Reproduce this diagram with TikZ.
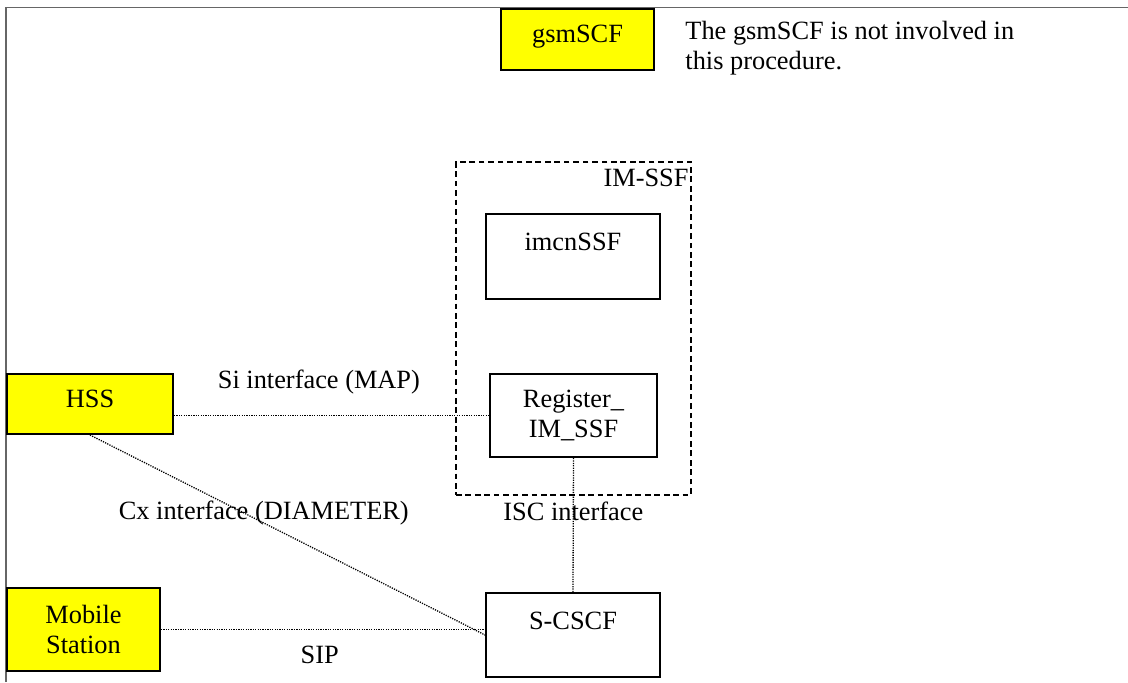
\documentclass[tikz,border=0pt]{standalone}
\usepackage{fontspec}
\setmainfont{Liberation Serif}
\usetikzlibrary{positioning}
\definecolor{boxyellow}{rgb}{1.0, 1.0, 0.0}

\begin{document}
\begin{tikzpicture}[font=\fontsize{12}{13.8}\selectfont,
    fnbox/.style={draw, line width=0.9pt, align=center, inner sep=0pt},
    ext/.style={fnbox, fill=boxyellow},
    hightext/.style={text height=8pt, text depth=5pt},
    toptext/.style={text height=8pt, text depth=13.4pt},
    link/.style={line width=0.6pt, dash pattern=on 0.55pt off 0.55pt},
    lbl/.style={inner sep=0pt}]
    \useasboundingbox (0,0) rectangle (18.048,-10.912);
    \draw[black!60, line width=0.7pt] (0.096,-10.912) -- (0.096,-0.12) -- (18.048,-0.12);

    % External entities
    \node (gsmscf) [ext, hightext, minimum width=2.448cm, minimum height=0.976cm] at (9.24,-0.632) {gsmSCF};
    \node (note) [lbl, anchor=north west, align=left] at (10.96,-0.328) {The gsmSCF is not involved in\\this procedure.};
    \node (hss) [ext, hightext, minimum width=2.656cm, minimum height=0.96cm] at (1.44,-6.464) {HSS};
    \node (ms) [ext, minimum width=2.448cm, minimum height=1.328cm] at (1.336,-10.072) {Mobile\\Station};

    % IM-SSF
    \node (imssf) [draw, line width=0.9pt, dash pattern=on 2.6pt off 1.7pt, minimum width=3.76cm, minimum height=5.328cm] at (9.176,-5.256) {};
    \node (imssflbl) [lbl, anchor=north east, xshift=-0.048cm, yshift=-0.128cm] at (imssf.north east) {IM-SSF};
    \node (imcn) [fnbox, toptext, minimum width=2.784cm, minimum height=1.36cm] at (9.168,-4.104) {imcnSSF};
    \node (reg) [fnbox, minimum width=2.672cm, minimum height=1.328cm] at (9.176,-6.648) {Register\_\\IM\_SSF};

    % S-CSCF
    \node (scscf) [fnbox, toptext, minimum width=2.784cm, minimum height=1.344cm] at (9.168,-10.16) {S-CSCF};

    % Interfaces
    \draw[link] (hss.east |- reg.west) -- (reg.west) node[lbl, pos=0.46, yshift=0.53cm] {Si interface (MAP)};
    \draw[link] (hss.south) -- (scscf.west) node[lbl, pos=0.44, yshift=0.16cm] {Cx interface (DIAMETER)};
    \draw[link] (ms.east) -- (ms.east -| scscf.west) node[lbl, pos=0.49, yshift=-0.4cm] {SIP};
    \draw[link] (reg.south) -- (scscf.north) node[lbl, pos=0.4] {ISC interface};
\end{tikzpicture}
\end{document}
